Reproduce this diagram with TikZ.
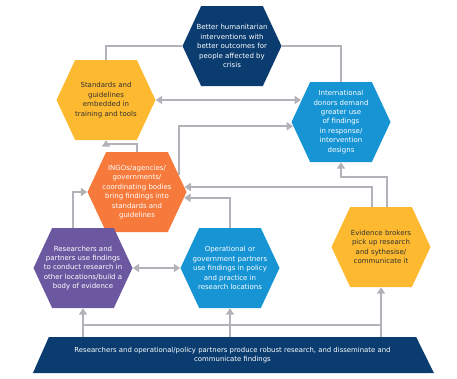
\documentclass[tikz,border=0pt]{standalone}
\usepackage{fontspec}
\setmainfont{DejaVu Sans}
\usepackage{tikz}
\usetikzlibrary{arrows.meta,shapes.symbols,shapes.geometric}
\definecolor{navy}{RGB}{10,60,112}
\definecolor{sun}{RGB}{253,185,47}
\definecolor{sky}{RGB}{22,148,212}
\definecolor{tang}{RGB}{245,122,60}
\definecolor{plum}{RGB}{108,88,160}
\definecolor{wire}{RGB}{178,178,184}
\definecolor{ink}{RGB}{50,50,50}

\begin{document}
\begin{tikzpicture}[x=1pt, y=-1pt,
		hex/.style={shape=signal, signal to=east and west, signal pointer angle=130,
				minimum width=99pt, minimum height=80pt, inner xsep=-16pt, inner ysep=1pt,
				align=center, font=\fontsize{7}{9.4}\selectfont, text=white},
		base/.style={trapezium, trapezium left angle=55, trapezium right angle=52,
				trapezium stretches body, minimum width=401pt, minimum height=36pt,
				fill=navy, text=white, align=center, font=\fontsize{6.9}{9.4}\selectfont},
		line/.style={draw=wire, line width=1.6pt},
		arr/.style={line, -{Triangle[length=6.5pt,width=8pt]}},
		darr/.style={line, {Triangle[length=6.5pt,width=8pt]}-{Triangle[length=6.5pt,width=8pt]}}
		]
		\useasboundingbox (0,0) rectangle (457,378);
		\node[hex, fill=navy] (goal) at (232,46) {Better humanitarian\\interventions with\\better outcomes for\\people affected by\\crisis};
		\node[hex, fill=sun, text=ink] (std) at (106,100) {Standards and\\guidelines\\embedded in\\training and tools};
		\node[hex, fill=sky] (donors) at (341,122) {International\\donors demand\\greater use\\of findings\\in response/\\intervention\\designs};
		\node[hex, fill=tang] (ingo) at (137,192) {INGOs/agencies/\\governments/\\coordinating bodies\\bring findings into\\standards and\\guidelines};
		\node[hex, fill=plum] (resr) at (83,268) {Researchers and\\partners use findings\\to conduct research in\\other locations/build a\\body of evidence};
		\node[hex, fill=sky] (oper) at (230,268) {Operational or\\government partners\\use findings in policy\\and practice in\\research locations};
		\node[hex, fill=sun, text=ink] (brok) at (381,247) {Evidence brokers\\pick up research\\and sythesise/\\communicate it};
		\node[base] (base) at (232.5,355) {Researchers and operational/policy partners produce robust research, and disseminate and\\communicate findings};
		\coordinate (bus) at (0,325);
		% links between the hexagons
		\draw[line] (goal.west) -| (std.north);
		\draw[line] (goal.east) -| (donors.north);
		\draw[darr] (std.east) -- (std.east -| donors.152);
		\draw[arr] (ingo.22) |- (donors.185);
		\draw[arr] (ingo.north) -- ++(0,-8) -| (std.south);
		\draw[arr] ([xshift=-9pt]brok.north) |- (ingo.6);
		\draw[arr] ([xshift=6pt]brok.north) -- ++(0,-30) -| (donors.south);
		\draw[arr] (oper.north) |- (ingo.-7);
		\draw[arr] ([xshift=-10pt]resr.north) |- (ingo.west);
		\draw[darr] (resr.east) -- (oper.west);
		% from the base
		\foreach \n in {resr, oper, brok}
		\draw[arr] (\n.south |- base.north) -- (\n.south);
		\draw[line] (resr.south |- bus) -- (brok.south |- bus);
	\end{tikzpicture}
\end{document}
